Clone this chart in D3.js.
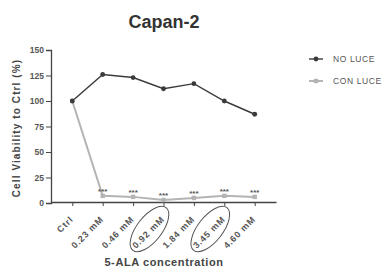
<!DOCTYPE html>
<html>
<head>
<meta charset="utf-8">
<script src="https://cdn.jsdelivr.net/npm/d3@7"></script>
<style>
	body { margin: 0; background: #fff; }
	text { font-family: "Liberation Sans", Arial, sans-serif; }
</style>
</head>
<body>
<div id="chart"></div>
<script>
const categories = ["Ctrl", "0.23 mM", "0.46 mM", "0.92 mM", "1.84 mM", "3.45 mM", "4.60 mM"];
const noLuce = [100, 126, 123, 112, 117, 100, 87];
const conLuce = [100, 7, 6, 3, 5, 7, 6];
const stars = ["", "***", "***", "***", "***", "***", "***"];
const circled = ["0.92 mM", "3.45 mM"];
const yTicks = [0, 25, 50, 75, 100, 125, 150];
const seriesNames = ["NO LUCE", "CON LUCE"];

const width = 386, height = 269;
const frame = { left: 51, right: 276, top: 50, bottom: 203 };
const dark = "#3a3a3a", light = "#b4b4b4", axisColor = "#444";
const fontFamily = "'Liberation Sans', Arial, sans-serif";

const svg = d3.select("#chart").append("svg")
	.attr("width", width)
	.attr("height", height);

const x = d3.scalePoint()
	.domain(categories)
	.range([frame.left, frame.right])
	.padding(0.7);

const y = d3.scaleLinear()
	.domain([0, 150])
	.range([frame.bottom, frame.top]);

// title
svg.append("text")
	.attr("x", 164).attr("y", 28)
	.attr("text-anchor", "middle")
	.attr("font-size", 18).attr("font-weight", "bold")
	.attr("fill", "#333")
	.text("Capan-2");

// y axis
const yAxis = svg.append("g")
	.attr("transform", `translate(${frame.left},0)`)
	.call(d3.axisLeft(y).tickValues(yTicks).tickSize(5).tickPadding(2));
yAxis.select(".domain").attr("stroke", axisColor).attr("stroke-width", 1.3);
yAxis.selectAll(".tick line").attr("stroke", axisColor);
yAxis.selectAll(".tick text")
	.attr("font-size", 8.5).attr("font-weight", "bold").attr("fill", "#555")
	.style("font-family", fontFamily);

svg.append("text")
	.attr("transform", `translate(19.5,128) rotate(-90)`)
	.attr("text-anchor", "middle")
	.attr("font-size", 10).attr("font-weight", "bold")
	.attr("letter-spacing", 1.1)
	.attr("fill", "#444")
	.text("Cell Viability to Ctrl (%)");

// x axis
const xAxis = svg.append("g")
	.attr("transform", `translate(0,${frame.bottom - 1})`)
	.call(d3.axisBottom(x).tickSize(4).tickSizeOuter(0));
xAxis.select(".domain").attr("stroke", axisColor).attr("stroke-width", 1.3);
xAxis.selectAll(".tick line").attr("stroke", axisColor);
xAxis.selectAll(".tick text")
	.attr("font-size", 9).attr("font-weight", "bold").attr("fill", "#555")
	.attr("letter-spacing", 0.8)
	.style("font-family", fontFamily)
	.attr("text-anchor", "end")
	.attr("x", 0).attr("y", 0).attr("dy", 0)
	.attr("transform", "translate(1,18) rotate(-45)");

// circled labels
svg.selectAll(".mark-ellipse")
	.data(circled)
	.enter()
	.append("ellipse")
	.attr("class", "mark-ellipse")
	.attr("transform", d => `translate(${x(d) - 14},${frame.bottom + 26}) rotate(-52)`)
	.attr("rx", 27).attr("ry", 12.5)
	.attr("fill", "none")
	.attr("stroke", "#555")
	.attr("stroke-width", 1);

svg.append("text")
	.attr("x", 164).attr("y", 266)
	.attr("text-anchor", "middle")
	.attr("font-size", 11).attr("font-weight", "bold")
	.attr("letter-spacing", 0.6)
	.attr("fill", "#444")
	.text("5-ALA concentration");

// series
const line = d3.line()
	.x((d, i) => x(categories[i]))
	.y(d => y(d));

svg.append("path")
	.datum(conLuce)
	.attr("d", line)
	.attr("fill", "none")
	.attr("stroke", light)
	.attr("stroke-width", 2);

svg.append("path")
	.datum(noLuce)
	.attr("d", line)
	.attr("fill", "none")
	.attr("stroke", dark)
	.attr("stroke-width", 1.4);

svg.selectAll(".sq")
	.data(conLuce)
	.enter()
	.append("rect")
	.attr("class", "sq")
	.attr("x", (d, i) => x(categories[i]) - 2.2)
	.attr("y", d => y(d) - 2.2)
	.attr("width", 4.4).attr("height", 4.4)
	.attr("fill", light);

svg.selectAll(".dot")
	.data(noLuce)
	.enter()
	.append("circle")
	.attr("class", "dot")
	.attr("cx", (d, i) => x(categories[i]))
	.attr("cy", d => y(d))
	.attr("r", 2.4)
	.attr("fill", dark);

svg.selectAll(".star")
	.data(stars)
	.enter()
	.append("text")
	.attr("class", "star")
	.attr("x", (d, i) => x(categories[i]))
	.attr("y", (d, i) => y(conLuce[i]) - 1.5)
	.attr("text-anchor", "middle")
	.attr("font-size", 8).attr("font-weight", "bold")
	.attr("fill", "#555")
	.text(d => d);

// legend
const legend = svg.append("g").attr("transform", "translate(309,59)");
const colors = [dark, light];
seriesNames.forEach((name, i) => {
	const g = legend.append("g").attr("transform", `translate(0,${i * 22})`);
	g.append("line")
		.attr("x1", 0).attr("x2", 14)
		.attr("stroke", colors[i]).attr("stroke-width", i ? 2 : 1.4);
	if (i === 0) {
		g.append("circle").attr("cx", 7).attr("r", 2.4).attr("fill", dark);
	} else {
		g.append("rect").attr("x", 4.8).attr("y", -2.2).attr("width", 4.4).attr("height", 4.4).attr("fill", light);
	}
	g.append("text")
		.attr("x", 24).attr("y", 3)
		.attr("font-size", 8.5)
		.attr("letter-spacing", 0.6)
		.attr("fill", "#555")
		.text(name);
});
</script>
</body>
</html>
